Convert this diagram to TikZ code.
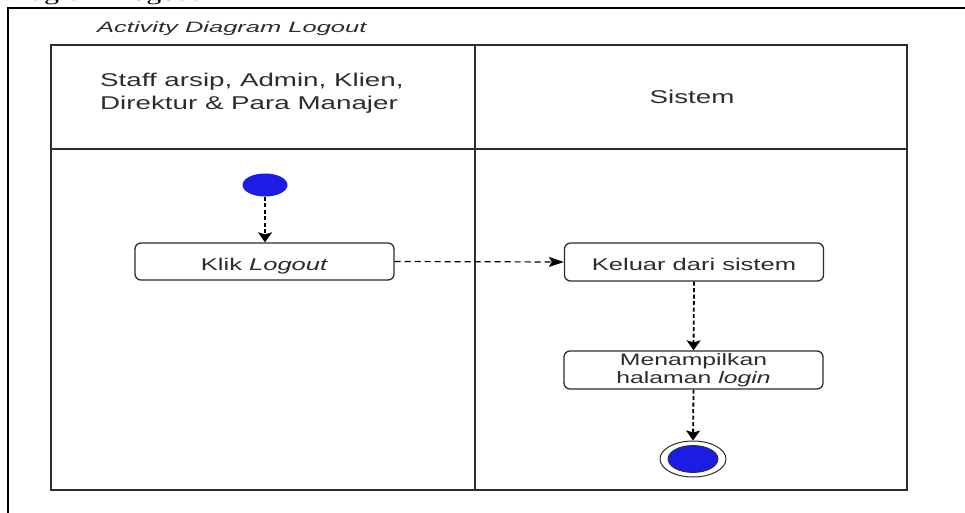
\documentclass[tikz,border=0pt]{standalone}
\usepackage{fontspec}
\setmainfont{Liberation Sans}
\newfontfamily\lanefont[FakeStretch=1.5]{Liberation Sans}
\newfontfamily\titlefont[FakeStretch=1.7]{Liberation Sans}
\newfontfamily\capfont[FakeStretch=1.5]{Liberation Serif}
\usetikzlibrary{shapes.geometric,arrows.meta}
\definecolor{nodeblue}{RGB}{28,28,228}
\definecolor{ink}{RGB}{45,45,45}
\begin{document}
\begin{tikzpicture}[x=1pt,y=-1pt,
  lane/.style={draw=ink, line width=1.6pt},
  action/.style={draw=ink, line width=1.3pt, rounded corners=6pt, fill=white,
    minimum width=259pt, minimum height=37pt, inner sep=0pt,
    font=\lanefont\fontsize{17}{19}\selectfont, text=ink, align=center},
  oneline/.style={text height=17pt, text depth=0pt},
  twoline/.style={font=\lanefont\fontsize{16.5}{17.5}\selectfont},
  headtext/.style={font=\lanefont\fontsize{18.5}{22.5}\selectfont, text=ink},
  vflow/.style={black, line width=1.8pt, dash pattern=on 4pt off 2.5pt,
    -{Stealth[length=10pt,width=14pt,inset=2pt]}},
  hflow/.style={black, line width=1.2pt, dash pattern=on 6pt off 4pt,
    -{Stealth[length=15pt,width=10pt,inset=3pt]}}
]
\useasboundingbox (0,0) rectangle (965,513);

% page frame and cut-off caption
\draw[black, line width=2pt] (7.5,520) -- (7.5,8) -- (975,8);
\node[anchor=base east, inner sep=0pt, font=\capfont\fontsize{20}{24}\selectfont] (caption) at (200,0.5) {Diagram Logout};

% diagram title
\node[anchor=base west, inner sep=0pt, text=ink,
  font=\titlefont\itshape\fontsize{15}{18}\selectfont] (title) at (97,33) {Activity Diagram Logout};

% swimlanes
\draw[lane] (51,45) rectangle (907,490);
\draw[lane] (475,45) -- (475,490);
\draw[lane] (51,149) -- (907,149);
\node[headtext, anchor=west, align=left, inner sep=0pt] (actors) at (100,93)
  {Staff arsip, Admin, Klien,\\Direktur \& Para Manajer};
\node[headtext, inner sep=0pt] (system) at (692,97) {Sistem};

% activity nodes
\node[ellipse, fill=nodeblue, minimum width=45pt, minimum height=23pt, inner sep=0pt] (start) at (265,185) {};
\node[action, oneline] (klik) at (264.5,261.5) {Klik \textit{Logout}};
\node[action, oneline, minimum height=38pt] (keluar) at (694,262) {Keluar dari sistem};
\node[action, twoline, minimum height=38pt] (tampil) at (693.5,370) {Menampilkan\\halaman \textit{login}};
\node[ellipse, draw=ink, line width=1pt, minimum width=66pt, minimum height=36pt, inner sep=0pt] (final) at (693,459) {};
\node[ellipse, draw=ink, line width=0.8pt, fill=nodeblue, minimum width=50pt, minimum height=27pt, inner sep=0pt] (finaldot) at (693,459) {};

% control flows
\draw[vflow] (start.south) -- (start.south |- klik.north);
\draw[hflow] (klik.east) -- (keluar.west);
\draw[vflow] (keluar.south) -- (tampil.north);
\draw[vflow] (tampil.south) -- (final.north);
\end{tikzpicture}
\end{document}
